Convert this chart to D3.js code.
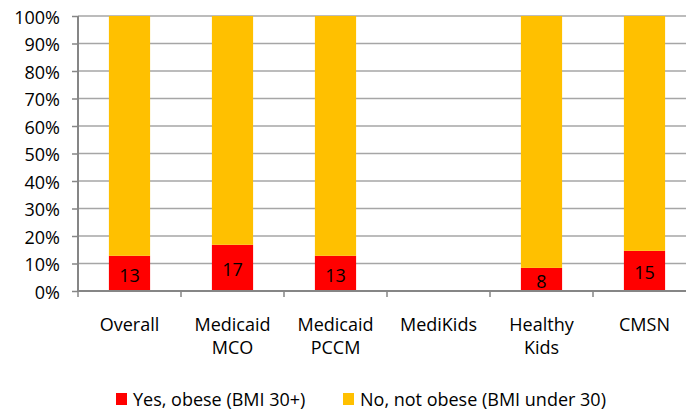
<!DOCTYPE html>
<html>
<head>
<meta charset="utf-8">
<script src="https://cdn.jsdelivr.net/npm/d3@7"></script>
<style>
  body { margin: 0; background: #fff; }
  text { font-family: "Open Sans", sans-serif; fill: #000; }
</style>
</head>
<body>
<div id="chart"></div>
<script>
// categories (multi-line labels) and stacked percentages
const categories = ["Overall", "Medicaid MCO", "Medicaid PCCM", "MediKids", "Healthy Kids", "CMSN"];
const categoryLines = [["Overall"], ["Medicaid", "MCO"], ["Medicaid", "PCCM"], ["MediKids"], ["Healthy", "Kids"], ["CMSN"]];
const obese    = [12.8, 16.8, 12.8, 0, 8.4, 14.6];
const notObese = [87.2, 83.2, 87.2, 0, 91.6, 85.4];
const obeseLabels = ["13", "17", "13", "", "8", "15"];
const yTicks = [0, 10, 20, 30, 40, 50, 60, 70, 80, 90, 100];

const seriesNames = ["Yes, obese (BMI 30+)", "No, not obese (BMI under 30)"];
const COLOURS = ["#ff0000", "#ffc000"];

(function () {
  const W = 686, H = 410;
  const X0 = 78, X1 = 696, Y0 = 291, Y1 = 16;
  const FS = "18px";

  const svg = d3.select("#chart").append("svg")
    .attr("width", W).attr("height", H);

  const x = d3.scaleBand().domain(categories).range([X0, X1])
    .paddingInner(0.6).paddingOuter(0.3);
  const y = d3.scaleLinear().domain([0, 100]).range([Y0, Y1]);

  // gridlines
  svg.append("g").selectAll("line").data(yTicks.filter(d => d > 0)).join("line")
    .attr("x1", X0).attr("x2", X1)
    .attr("y1", d => y(d)).attr("y2", d => y(d))
    .attr("stroke", "#a6a6a6").attr("stroke-width", 1.4);

  // stacked bars
  const rows = categories.map((c, i) => ({ cat: c, obese: obese[i], notObese: notObese[i], label: obeseLabels[i] }));
  const stack = d3.stack().keys(["obese", "notObese"])(rows);

  svg.append("g").selectAll("g").data(stack).join("g")
    .attr("fill", (d, i) => COLOURS[i])
    .selectAll("rect").data(d => d).join("rect")
    .attr("x", d => x(d.data.cat))
    .attr("width", x.bandwidth())
    .attr("y", d => y(d[1]))
    .attr("height", d => y(d[0]) - y(d[1]));

  // value labels
  svg.append("g").selectAll("text").data(rows.filter(d => d.label)).join("text")
    .attr("x", d => x(d.cat) + x.bandwidth() / 2)
    .attr("y", d => y(d.obese / 2) + 2)
    .attr("text-anchor", "middle")
    .attr("dy", "0.35em")
    .attr("font-size", FS)
    .text(d => d.label);

  // y axis
  const yAxis = svg.append("g").attr("transform", `translate(${X0},0)`)
    .call(d3.axisLeft(y).tickValues(yTicks).tickSize(6).tickPadding(12).tickFormat(d => d + "%"));
  yAxis.select(".domain").attr("stroke", "#868686").attr("stroke-width", 2).attr("d", `M0,${Y1}V${Y0}`);
  yAxis.selectAll(".tick line").attr("stroke", "#868686").attr("stroke-width", 1.5);
  yAxis.selectAll(".tick text").attr("font-size", FS).attr("font-family", "Open Sans").attr("fill", "#000").attr("dy", "0.4em");

  // x axis
  const xAxis = svg.append("g").attr("transform", `translate(0,${Y0})`);
  xAxis.append("line").attr("x1", X0).attr("x2", X1).attr("stroke", "#868686").attr("stroke-width", 2);
  const bounds = categories.map(c => x(c) - x.step() * x.paddingInner() / 2).concat([X1]);
  xAxis.selectAll(".xtick").data(bounds).join("line")
    .attr("x1", d => d).attr("x2", d => d).attr("y1", 0).attr("y2", 6)
    .attr("stroke", "#868686").attr("stroke-width", 1.5);

  const labels = svg.append("g").selectAll("text").data(categories).join("text")
    .attr("x", d => x(d) + x.bandwidth() / 2)
    .attr("y", 331)
    .attr("text-anchor", "middle")
    .attr("font-size", FS);
  labels.each(function (d, i) {
    d3.select(this).selectAll("tspan").data(categoryLines[i]).join("tspan")
      .attr("x", x(d) + x.bandwidth() / 2)
      .attr("dy", (t, j) => j === 0 ? 0 : 23)
      .text(t => t);
  });

  // legend
  const legendPos = [116, 343];
  const legend = svg.append("g").selectAll("g").data(seriesNames).join("g")
    .attr("transform", (d, i) => `translate(${legendPos[i]},393)`);
  legend.append("rect").attr("width", 11).attr("height", 12).attr("fill", (d, i) => COLOURS[i]);
  legend.append("text").attr("x", 17).attr("y", 12.5).attr("font-size", FS).text(d => d);
})();
</script>
</body>
</html>
